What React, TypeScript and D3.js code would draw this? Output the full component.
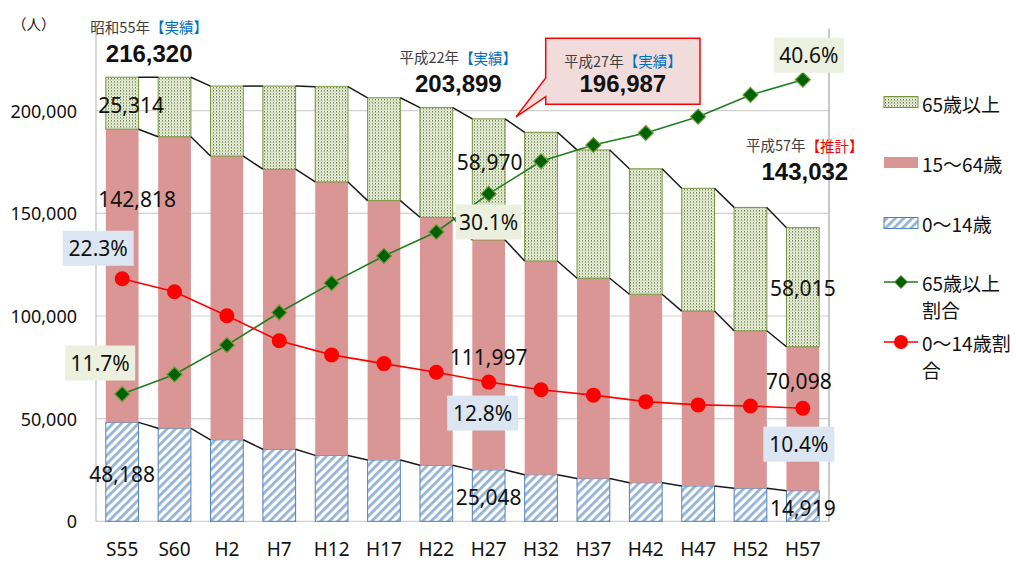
import React from 'react';
import * as d3 from 'd3';

const categories = ['S55', 'S60', 'H2', 'H7', 'H12', 'H17', 'H22', 'H27', 'H32', 'H37', 'H42', 'H47', 'H52', 'H57'];
const age0to14 = [48188, 45300, 39700, 35100, 32100, 29900, 27300, 25048, 22700, 20800, 18800, 17200, 16100, 14919];
const age15to64 = [142818, 142000, 138200, 136400, 133200, 126300, 120800, 111997, 104100, 97600, 91800, 85200, 76700, 70098];
const age65plus = [25314, 29000, 34100, 40500, 46400, 50100, 53400, 58970, 62700, 62500, 61100, 59800, 60100, 58015];
const ratio65 = [11.7, 13.5, 16.2, 19.2, 21.9, 24.4, 26.6, 30.1, 33.1, 34.6, 35.7, 37.2, 39.2, 40.6];
const ratio0to14 = [22.3, 21.1, 18.9, 16.6, 15.3, 14.5, 13.7, 12.8, 12.1, 11.6, 11.0, 10.7, 10.6, 10.4];
const yTicks = [0, 50000, 100000, 150000, 200000];

// 表示されている数値ラベル（カテゴリ, 系列, ずらし量）
const valueLabels = [
  { cat: 'S55', key: 'old', dx: 9, dy: 1.5 },
  { cat: 'S55', key: 'work', dx: 15, dy: -77 },
  { cat: 'S55', key: 'young', dx: 0, dy: 2 },
  { cat: 'H27', key: 'old', dx: 1, dy: -17 },
  { cat: 'H27', key: 'work', dx: 0, dy: 2 },
  { cat: 'H27', key: 'young', dx: 0, dy: 1.5 },
  { cat: 'H57', key: 'old', dx: 0, dy: 1 },
  { cat: 'H57', key: 'work', dx: -4, dy: -38 },
  { cat: 'H57', key: 'young', dx: 0, dy: 2 },
];
const ratioLabels = [
  { cat: 'S55', series: 'r65', dx: -22, dy: -31, w: 70 },
  { cat: 'S55', series: 'r14', dx: -24, dy: -30.5, w: 71 },
  { cat: 'H27', series: 'r65', dx: 0, dy: 28, w: 66 },
  { cat: 'H27', series: 'r14', dx: -6, dy: 31, w: 71 },
  { cat: 'H57', series: 'r65', dx: 6, dy: -24.5, w: 70 },
  { cat: 'H57', series: 'r14', dx: -4, dy: 36, w: 71 },
];
const totalNotes = [
  { cat: 'S55', era: '昭和55年', tag: '【実績】', total: '216,320', dx: 27, tagColor: '#0070C0' },
  { cat: 'H22', era: '平成22年', tag: '【実績】', total: '203,899', dx: 22, tagColor: '#0070C0' },
  { cat: 'H57', era: '平成57年', tag: '【推計】', total: '143,032', dx: 2, tagColor: '#FF0000' },
];

const W = 1016;
const H = 563;
const left = 96, right = 829, top = 28.6, bottom = 521.3;
const numFont = "'Noto Sans', 'Noto Sans CJK JP', sans-serif";
const jpFont = "'Noto Sans CJK JP', 'Noto Sans', sans-serif";
const boldFont = "'Liberation Sans', Arial, sans-serif";

const rows = categories.map((c, i) => ({ cat: c, young: age0to14[i], work: age15to64[i], old: age65plus[i] }));

const App: React.FC = () => {
  const x = d3.scaleBand().domain(categories).range([left, right]).paddingInner(0.375).paddingOuter(0.1875);
  const y = d3.scaleLinear().domain([0, 240000]).range([bottom, top]);
  const y2 = d3.scaleLinear().domain([0, 45.3]).range([bottom, top]);
  const bw = x.bandwidth();
  const cx = (c: string) => (x(c) as number) + bw / 2;

  const stack = d3.stack<any>().keys(['young', 'work', 'old'])(rows);
  const fills: Record<string, string> = { young: 'url(#stripe)', work: '#D99694', old: 'url(#dots)' };
  const strokes: Record<string, string> = { young: '#4F81BD', work: 'none', old: '#77933C' };

  const fmt = d3.format(',');
  const line = d3.line<number>().x((_, i) => cx(categories[i]));
  const path65 = line.y(d => y2(d))(ratio65) as string;
  const path14 = line.y(d => y2(d))(ratio0to14) as string;

  const seg = (key: string, cat: string) => {
    const layer = stack.find(s => s.key === key)!;
    return layer[categories.indexOf(cat)];
  };

  // 吹き出し（平成27年）
  const i27 = categories.indexOf('H27');
  const tot27 = stack[2][i27][1];
  const tipX = (x('H27') as number) + bw + 11;
  const tipY = y(tot27) - 2;
  const bx0 = 545.7, bx1 = 700, by0 = 38.3, by1 = 104.3;
  const callout = `M${bx0},${by0}H${bx1}V${by1}H${bx0}V96.7L${tipX},${tipY}L${bx0},78Z`;

  return (
    <svg width={W} height={H} style={{ position: 'absolute', left: 0, top: 0, background: '#fff' }}>
      <defs>
        <pattern id="dots" width="3" height="3" patternUnits="userSpaceOnUse">
          <rect width="3" height="3" fill="#eef2e4" />
          <rect x="0" y="0" width="1" height="1.5" fill="#6f8a45" />
          <rect x="1.5" y="1.5" width="1" height="1" fill="#8ea564" />
        </pattern>
        <pattern id="stripe" width="6" height="6" patternUnits="userSpaceOnUse" patternTransform="rotate(45)">
          <rect width="6" height="6" fill="#fff" />
          <rect width="2.8" height="6" fill="#95B3D7" />
        </pattern>
      </defs>

      {/* グリッド線 */}
      {yTicks.map(t => (
        <line key={t} x1={left} x2={right} y1={y(t)} y2={y(t)} stroke="#d0d0d0" strokeWidth={1.2} />
      ))}
      <line x1={left} x2={left} y1={top} y2={bottom} stroke="#bfbfbf" strokeWidth={1.2} />
      <line x1={right} x2={right} y1={top} y2={bottom} stroke="#a6a6a6" strokeWidth={1.2} />
      {yTicks.map(t => (
        <text key={t} x={77} y={y(t)} textAnchor="end" dominantBaseline="central" fontFamily={numFont} fontSize={18} fill="#111">
          {fmt(t)}
        </text>
      ))}
      {categories.map(c => (
        <text key={c} x={cx(c)} y={549} textAnchor="middle" dominantBaseline="central" fontFamily={numFont} fontSize={19} fill="#111">
          {c}
        </text>
      ))}
      <text x={12} y={23} dominantBaseline="central" fontFamily={jpFont} fontSize={14.5} fill="#111">（人）</text>

      {/* 積み上げ棒 */}
      {stack.map(layer => (
        <g key={layer.key}>
          {layer.map((d, i) => (
            <rect
              key={i}
              x={x(categories[i]) as number}
              y={y(d[1])}
              width={bw}
              height={y(d[0]) - y(d[1])}
              fill={fills[layer.key]}
              stroke={strokes[layer.key]}
              strokeWidth={1}
            />
          ))}
        </g>
      ))}

      {/* 区分線 */}
      {stack.map(layer => (
        <g key={'s' + layer.key}>
          {layer.slice(0, -1).map((d, i) => (
            <line
              key={i}
              x1={(x(categories[i]) as number) + bw}
              y1={y(d[1])}
              x2={x(categories[i + 1]) as number}
              y2={y(layer[i + 1][1])}
              stroke="#1a1a1a"
              strokeWidth={1.5}
            />
          ))}
        </g>
      ))}

      {/* 割合の折れ線 */}
      <path d={path65} fill="none" stroke="#1f7f1f" strokeWidth={1.6} />
      {ratio65.map((r, i) => {
        const px = cx(categories[i]);
        const py = y2(r);
        return (
          <path key={i} d={`M${px},${py - 7.5}L${px + 7.5},${py}L${px},${py + 7.5}L${px - 7.5},${py}Z`} fill="#006100" stroke="#6f9a3a" strokeWidth={1.2} />
        );
      })}
      <path d={path14} fill="none" stroke="#FF0000" strokeWidth={1.6} />
      {ratio0to14.map((r, i) => (
        <circle key={i} cx={cx(categories[i])} cy={y2(r)} r={7.5} fill="#FF0000" />
      ))}

      {/* 数値ラベル */}
      {valueLabels.map((l, k) => {
        const d = seg(l.key, l.cat);
        const mid = (y(d[0]) + y(d[1])) / 2;
        return (
          <text key={k} x={cx(l.cat) + l.dx} y={mid + l.dy} textAnchor="middle" dominantBaseline="central" fontFamily={numFont} fontSize={21} fill="#111">
            {fmt(d[1] - d[0])}
          </text>
        );
      })}
      {ratioLabels.map((l, k) => {
        const i = categories.indexOf(l.cat);
        const v = l.series === 'r65' ? ratio65[i] : ratio0to14[i];
        const px = cx(l.cat) + l.dx;
        const py = y2(v) + l.dy;
        return (
          <g key={k}>
            <rect x={px - l.w / 2} y={py - 17.5} width={l.w} height={35} fill={l.series === 'r65' ? '#EBF1DE' : '#DCE6F2'} />
            <text x={px} y={py} textAnchor="middle" dominantBaseline="central" fontFamily={numFont} fontSize={21} fill="#111">
              {v.toFixed(1)}%
            </text>
          </g>
        );
      })}

      {/* 総人口の注記 */}
      {totalNotes.map((n, k) => {
        const i = categories.indexOf(n.cat);
        const tv = stack[2][i][1];
        const px = cx(n.cat) + n.dx;
        const base = n.cat === 'H57' ? y(tv) - 56 : y(tv) - 24;
        return (
          <g key={k}>
            <text x={px} y={base - 27} textAnchor="middle" dominantBaseline="central" fontFamily={jpFont} fontSize={14.5} fill="#404040">
              {n.era}
              <tspan fill={n.tagColor}>{n.tag}</tspan>
            </text>
            <text x={px} y={base} textAnchor="middle" dominantBaseline="central" fontFamily={boldFont} fontWeight="bold" fontSize={24} fill="#111">
              {n.total}
            </text>
          </g>
        );
      })}

      <path d={callout} fill="#F2DCDB" stroke="#FF0000" strokeWidth={1.5} />
      <text x={(bx0 + bx1) / 2} y={60} textAnchor="middle" dominantBaseline="central" fontFamily={jpFont} fontSize={14.5} fill="#404040">
        平成27年<tspan fill="#0070C0">【実績】</tspan>
      </text>
      <text x={(bx0 + bx1) / 2} y={83} textAnchor="middle" dominantBaseline="central" fontFamily={boldFont} fontWeight="bold" fontSize={24} fill="#111">
        196,987
      </text>

      {/* 凡例 */}
      <g fontFamily={jpFont} fontSize={19} fill="#111">
        <rect x={884} y={96.5} width={34} height={11} fill="url(#dots)" stroke="#77933C" />
        <text x={922} y={103} dominantBaseline="central">65歳以上</text>
        <rect x={884} y={157} width={34} height={11} fill="#D99694" />
        <text x={922} y={163} dominantBaseline="central">15〜64歳</text>
        <rect x={884} y={217.5} width={34} height={11} fill="url(#stripe)" stroke="#4F81BD" />
        <text x={922} y={223} dominantBaseline="central">0〜14歳</text>
        <line x1={884} x2={918} y1={282} y2={282} stroke="#1f7f1f" strokeWidth={1.6} />
        <path d="M901,275.5L907.5,282L901,288.5L894.5,282Z" fill="#006100" stroke="#6f9a3a" />
        <text x={922} y={282} dominantBaseline="central">65歳以上</text>
        <text x={922} y={309} dominantBaseline="central">割合</text>
        <line x1={884} x2={918} y1={342} y2={342} stroke="#FF0000" strokeWidth={1.6} />
        <circle cx={901} cy={342} r={7} fill="#FF0000" />
        <text x={922} y={342} dominantBaseline="central">0〜14歳割</text>
        <text x={922} y={369} dominantBaseline="central">合</text>
      </g>
    </svg>
  );
};

export default App;
